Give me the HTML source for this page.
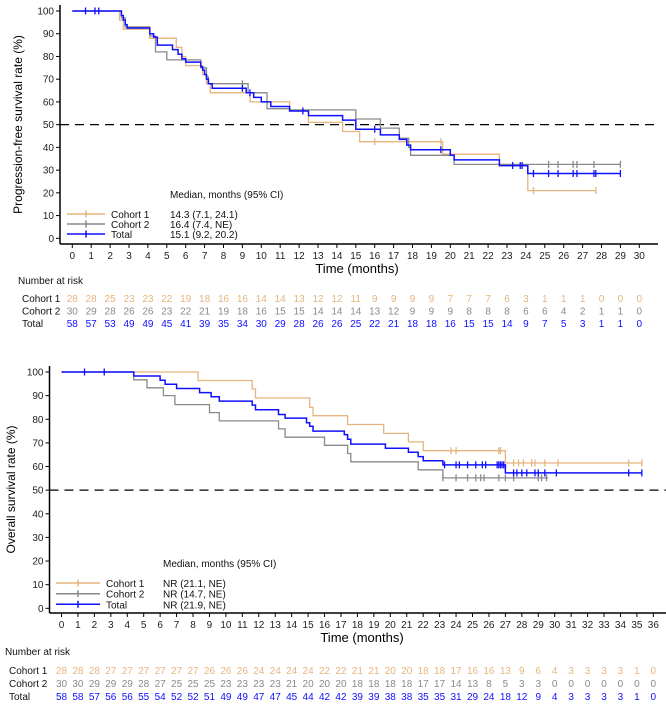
<!DOCTYPE html>
<html><head><meta charset="utf-8"><style>
body{margin:0;background:#fff;}
svg{display:block;font-family:"Liberation Sans",Arial,sans-serif;}
</style></head><body>
<svg id="s" width="666" height="707" viewBox="0 0 666 707"></svg>
<script>
const C1="#e6b47d",C2="#8a8a8a",CT="#1010ff";
let out="";
function T(x,y,t,o){o=o||{};out+=`<text x="${x}" y="${y}" font-size="${o.fs||10}" fill="${o.c||'#222'}" text-anchor="${o.a||'start'}"${o.tr?` transform="${o.tr}"`:''}>${t}</text>`;}
function L(x1,y1,x2,y2,c,w,d){out+=`<line x1="${x1}" y1="${y1}" x2="${x2}" y2="${y2}" stroke="${c}" stroke-width="${w||1}"${d?` stroke-dasharray="${d}"`:''}/>`;}
function chart(P){
 const X=m=>P.x0+m*P.dx, Y=v=>P.y0-v*P.dy;
 L(P.ax,P.top,P.ax,P.axb,"#000",1.5);L(P.ax,P.axb,P.right,P.axb,"#000",1.5);
 for(let v=0;v<=100;v+=10){L(P.ax-4,Y(v),P.ax,Y(v),"#000");T(P.ax-6,Y(v)+3.5,v,{a:"end"});}
 for(let m=0;m<=P.max;m++){L(X(m),P.axb,X(m),P.axb+4,"#000");T(X(m),P.axb+15,m,{a:"middle"});}
 L(P.ax,Y(50),P.right,Y(50),"#000",1.3,"9,6");
 T(P.tx,P.axb+29,"Time (months)",{fs:13,a:"middle",c:"#000"});
 T(P.ylx,(P.top+P.axb)/2,P.ylab,{fs:12,a:"middle",c:"#000",tr:`rotate(-90 ${P.ylx} ${(P.top+P.axb)/2})`});
 for(const s of P.series){
  let d=`M${X(0)},${Y(100)}`;
  for(const [t,v] of s.steps){d+=`H${X(t).toFixed(1)}V${Y(v).toFixed(1)}`;}
  d+=`H${X(s.end).toFixed(1)}`;
  out+=`<path d="${d}" fill="none" stroke="${s.c}" stroke-width="${s.w||1.3}"/>`;
  for(const t of s.cens){let v=100;for(const [tt,vv] of s.steps) if(tt<=t) v=vv;L(X(t),Y(v)-3.5,X(t),Y(v)+3.5,s.c,1.3);}
 }
 const lab=["Cohort 1","Cohort 2","Total"],cs=[C1,C2,CT];
 T(P.mx,P.ly[0]-16,"Median, months (95% CI)",{c:"#111"});
 for(let i=0;i<3;i++){L(P.lx1,P.ly[i],P.lx2,P.ly[i],cs[i],1.5);L((P.lx1+P.lx2)/2,P.ly[i]-3.5,(P.lx1+P.lx2)/2,P.ly[i]+3.5,cs[i],1.5);
  T(P.lx2+6,P.ly[i]+4,lab[i],{c:"#111"});T(P.mx,P.ly[i]+4,P.med[i],{c:"#111"});}
 T(P.rx,P.nry,"Number at risk",{c:"#111"});
 for(let i=0;i<3;i++){T(P.rx+4,P.ry[i],lab[i],{c:"#111"});
  P.risk[i].split(" ").forEach((n,m)=>T(X(m),P.ry[i],n,{a:"middle",c:cs[i]}));}
}
chart({x0:72.3,dx:18.9,y0:238.3,dy:2.273,ax:60,top:5,axb:244,right:658,max:30,tx:357,ylx:22,ylab:"Progression-free survival rate (%)",
 lx1:67,lx2:105,ly:[214,224,234],mx:170,med:["14.3 (7.1, 24.1)","16.4 (7.4, NE)","15.1 (9.2, 20.2)"],
 rx:18,nry:284,ry:[302,314.5,327],
 risk:["28 28 25 23 23 22 19 18 16 16 14 14 13 12 12 11 9 9 9 9 7 7 7 6 3 1 1 1 0 0 0",
 "30 29 28 26 26 23 22 21 19 18 16 15 15 14 14 14 13 12 9 9 9 8 8 8 6 6 4 2 1 1 0",
 "58 57 53 49 49 45 41 39 35 34 30 29 28 26 26 25 22 21 18 18 16 15 15 14 9 7 5 3 1 1 0"],
 series:[
 {c:C1,end:27.7,steps:[[2.5,96],[2.7,92],[4.1,88],[5.5,84],[5.8,80],[6,76],[6.9,72],[7.1,68],[7.3,64],[9.4,60],[11.5,56],[12.5,51],[14.3,47],[15.2,42.5],[19.6,37],[22.6,32],[24.1,21]],cens:[16,19.5,24.4,27.7]},
 {c:C2,end:29,steps:[[2.6,97],[2.8,93],[4.1,89],[4.4,82],[5,78.5],[6.8,75],[7.1,71],[7.2,68],[9.3,64],[10.3,57],[11.5,56.5],[15,52.5],[16.3,48.5],[17.3,44],[17.8,40],[17.9,36.5],[20.2,32.5]],cens:[9,25.2,25.7,26.5,26.7,27.6,29]},
 {c:CT,w:1.5,end:29,steps:[[2.6,98],[2.7,96],[2.8,94],[2.9,92.5],[4.1,90],[4.3,88.5],[4.5,85],[5.3,83],[5.6,81],[5.8,79],[6,77.5],[6.8,75.5],[6.9,74],[7,72],[7.1,70],[7.2,68],[7.4,66],[9.2,64],[9.6,62],[10,60],[10.5,58],[11.5,56],[12.5,54],[14.3,52],[15,48],[16.3,45.5],[17.3,43.5],[17.7,41],[17.9,39],[20,36.5],[20.2,34.5],[22.6,32],[24.1,28.5]],
  cens:[0.7,1.2,1.4,9,9.4,12.2,16,19.5,23.3,23.7,23.8,24.4,25.2,25.7,26.5,26.7,27.6,27.7,29]}]});
chart({x0:61.5,dx:16.44,y0:608.3,dy:2.363,ax:49.5,top:366,axb:613,right:666,max:36,tx:362,ylx:15,ylab:"Overall survival rate (%)",
 lx1:56,lx2:100,ly:[583,593.7,604.3],mx:163,med:["NR (21.1, NE)","NR (14.7, NE)","NR (21.9, NE)"],
 rx:5,nry:655,ry:[674,687,700],
 risk:["28 28 28 27 27 27 27 27 27 26 26 26 24 24 24 24 22 22 21 21 20 20 18 18 17 16 16 13 9 6 4 3 3 3 3 1 0",
 "30 30 29 29 29 28 27 25 25 25 23 23 23 23 21 20 20 20 18 18 18 18 17 17 14 13 8 5 3 3 0 0 0 0 0 0 0",
 "58 58 57 56 56 55 54 52 52 51 49 49 47 47 45 44 42 42 39 39 38 38 35 35 31 29 24 18 12 9 4 3 3 3 3 1 0"],
 series:[
 {c:C1,end:35.3,steps:[[8.3,96.4],[11.6,92.8],[11.8,89],[15.1,85],[15.3,81.5],[17.4,77.8],[19.6,74],[21.1,70.4],[22,66.7],[27,61.5]],cens:[23.7,24,26.6,26.7,27.5,27.8,28.1,28.6,28.8,29.4,30.2,34.5,35.3]},
 {c:C2,end:29.6,steps:[[4.4,96.7],[5.2,93.3],[6.2,90],[6.9,86.2],[9,82.8],[9.6,79.3],[13.2,75.9],[13.6,72.4],[16,69],[17.4,65.5],[17.6,62],[21.7,58.6],[23.2,55.2]],cens:[23.2,24,24.7,25.2,25.5,25.7,26.6,27,27.5,29,29.2,29.5]},
 {c:CT,w:1.5,end:35.3,steps:[[4.4,98.3],[6,96.5],[6.3,94.8],[7,93],[8.4,91.3],[9.1,89.5],[9.6,87.7],[11.6,86],[11.8,84],[13.2,82],[13.6,80.5],[14.9,78.5],[15.1,77],[15.3,75],[17.2,73.5],[17.4,71.5],[17.6,69.5],[19.7,67.7],[21.1,66],[21.7,64.2],[22,62.4],[23.2,60.7],[27,57.3]],
  cens:[1.4,2.6,23.3,24,24.2,24.7,25.2,25.6,25.8,26.5,26.6,26.7,26.8,26.9,27.5,27.7,28,28.3,28.8,29,29.4,30.1,34.5,35.3]}]});
document.getElementById("s").innerHTML=out;
</script>
</body></html>
